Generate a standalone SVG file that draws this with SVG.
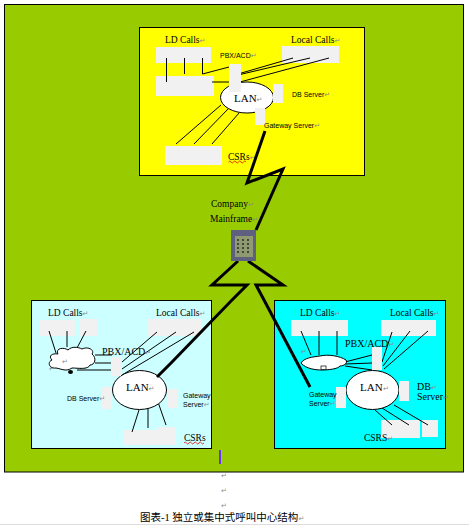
<svg xmlns="http://www.w3.org/2000/svg" width="469" height="525" viewBox="0 0 469 525">
<style>
text{font-family:"Liberation Serif","Noto Sans CJK SC",serif;font-size:9.5px;fill:#000}
.s{font-size:7px;font-family:"Liberation Sans","Noto Sans CJK SC",sans-serif}
.l{font-size:11px}
.m{font-size:10px}
.c{font-size:10.5px}
.r{fill:#8a8a8a;font-family:"DejaVu Sans",sans-serif;font-size:7px}
.w{fill:#f1f1f1}
.e{fill:#fff;stroke:#000;stroke-width:1}
.t{fill:none;stroke:#000;stroke-width:1}
.b{fill:none;stroke:#000;stroke-width:3;stroke-linejoin:miter}
</style>
<rect x="0" y="0" width="469" height="525" fill="#fff"/>
<rect x="0" y="524" width="469" height="1" fill="#dddddd"/>
<rect id="background" x="4.500" y="4.500" width="459" height="467.500" fill="#99cc00" stroke="#000"/>

<g id="panel-top">
<rect x="139.500" y="27.500" width="225" height="148" fill="#ffff00" stroke="#000"/>
<g id="top-ld"><rect class="w" x="156" y="47" width="55" height="16"/><text x="165" y="43">LD Calls<tspan class="r">↵</tspan></text></g>
<g id="top-pbx-block"><rect class="w" x="156" y="76" width="58" height="20"/></g>
<g id="top-local"><rect class="w" x="282" y="46" width="57" height="17"/><text x="291" y="43">Local Calls<tspan class="r">↵</tspan></text></g>
<g id="top-lines">
<path class="t" d="M166.500 58V82M184.500 58V74M202.500 58V74L229 67M212 82H229M238 74L293 58M238 75L310 58M240 82L329 58"/>
<path class="t" d="M221 105L176 144M229 108L194 144M239 113L212 144"/>
</g>
<g id="top-lan"><ellipse class="e" cx="247" cy="97.500" rx="26.500" ry="15.500"/><text class="l" x="234" y="102">LAN<tspan class="r">↵</tspan></text></g>
<g id="top-pbx"><rect class="w" x="229" y="64" width="12" height="28"/><text class="s" x="220" y="58">PBX/ACD<tspan class="r">↵</tspan></text></g>
<g id="top-db"><rect class="w" x="273" y="84" width="10" height="19"/><text class="s" x="292" y="97">DB Server<tspan class="r">↵</tspan></text></g>
<g id="top-gateway"><rect class="w" x="255" y="108" width="10" height="17"/><text class="s" x="264" y="128">Gateway Server<tspan class="r">↵</tspan></text></g>
<g id="top-csrs"><rect class="w" x="165" y="146" width="57" height="19"/><text x="228" y="160">CSRs<tspan class="r">↵</tspan></text><path d="M228.500 162q1.250-2 2.500 0t2.500 0t2.500 0t2.500 0t2.500 0t2.500 0t2.500 0" fill="none" stroke="#e00000" stroke-width=".8"/></g>
</g>

<g id="panel-left">
<rect x="31.500" y="300.500" width="180" height="148" fill="#ccffff" stroke="#000"/>
<g id="left-ld"><rect class="w" x="39" y="320" width="36" height="16"/><rect class="w" x="79" y="319" width="18" height="17"/><text x="48" y="316">LD Calls<tspan class="r">↵</tspan></text></g>
<g id="left-local"><rect class="w" x="147" y="319" width="55" height="17"/><text x="156" y="316">Local Calls<tspan class="r">↵</tspan></text></g>
<g id="left-csrs"><rect class="w" x="124" y="430" width="52" height="15"/><rect class="w" x="158" y="427" width="18" height="18"/><text x="184" y="441">CSRs</text><path d="M184 443q1.250-2 2.500 0t2.500 0t2.500 0t2.500 0t2.500 0t2.500 0t2.500 0t2.500 0" fill="none" stroke="#e00000" stroke-width=".8"/></g>
<g id="left-lines">
<path class="t" d="M49 331L56 353M67 331V347M86 331L77 348M95 355H112M95 363H112M77 370H112M122 362L157 332M122 369L176 332M122 375L194 332"/>
<path class="t" d="M139 410L132 432M148 408V428M158 402L166 425"/>
</g>
<g id="left-cloud"><path d="M58 354C55 348 64 347 68 350C72 346 78 347 82 349C88 346 95 350 92 354C97 358 95 365 90 365C88 370 78 368 72 368C66 372 62 369 56 368C49 369 47 362 52 360C48 356 52 353 58 354Z" fill="#fff" stroke="#000"/><ellipse cx="70.500" cy="372" rx="2.500" ry="2" fill="#000"/><text class="r" x="62" y="364">↵</text><text class="r" x="49" y="371">↵</text></g>
<g id="left-lan"><ellipse class="e" cx="139.500" cy="390" rx="27" ry="19.500"/><text class="l" x="126" y="391">LAN<tspan class="r">↵</tspan></text></g>
<g id="left-pbx"><rect class="w" x="111" y="357" width="10" height="19"/><text class="m" x="102" y="355">PBX/ACD<tspan class="r">↵</tspan></text></g>
<g id="left-db"><rect class="w" x="102" y="387" width="10" height="22"/><text class="s" x="67" y="401">DB Server<tspan class="r">↵</tspan></text></g>
<g id="left-gateway"><rect class="w" x="167" y="389" width="10" height="19"/><text class="s" x="183" y="398">Gateway</text><text class="s" x="183" y="407">Server<tspan class="r">↵</tspan></text></g>
</g>

<g id="panel-right">
<rect x="274.500" y="300.500" width="171" height="148" fill="#00ffff" stroke="#000"/>
<g id="right-ld"><rect class="w" x="291" y="320" width="57" height="16"/><text x="300" y="316">LD Calls<tspan class="r">↵</tspan></text></g>
<g id="right-local"><rect class="w" x="381" y="320" width="55" height="16"/><text x="390" y="316">Local Calls<tspan class="r">↵</tspan></text></g>
<g id="right-csrs"><rect class="w" x="381" y="420" width="39" height="18"/><rect class="w" x="422" y="420" width="16" height="17"/><text x="364" y="441">CSRS<tspan class="r">↵</tspan></text></g>
<g id="right-lines">
<path class="t" d="M301 331L311 355M319 331V355M337 331V355M345 362L372 355M345 364L372 363M345 366L372 370M382 362L392 332M383 366L410 331M384 369L428 331"/>
<path class="t" d="M375 410L392 425M382 408L409 425M394 405L428 425"/>
</g>
<g id="right-cloud"><path d="M301 363C304 358 312 357 320 356C328 354 340 356 346 360C348 363 344 366 340 366C338 369 328 370 322 370C316 370 306 369 301 363Z" fill="#fff" stroke="#000"/><rect x="321" y="366" width="5" height="3.500" fill="#fff" stroke="#000" stroke-width=".7"/><text class="r" x="301" y="354">↵</text></g>
<g id="right-lan"><ellipse class="e" cx="372.500" cy="390" rx="26.500" ry="19.500"/><text class="l" x="360" y="391">LAN</text><text class="r" x="383" y="391">↵</text></g>
<g id="right-pbx"><rect class="w" x="372" y="347" width="10" height="23"/><text class="m" x="345" y="347">PBX/ACD<tspan class="r">↵</tspan></text></g>
<g id="right-db"><rect class="w" x="399" y="381" width="10" height="20"/><text class="m" x="417" y="390">DB<tspan class="r">↵</tspan></text><text class="m" x="417" y="400">Server<tspan class="r">↵</tspan></text></g>
<g id="right-gateway"><rect class="w" x="336" y="387" width="10" height="21"/><text class="s" x="309" y="397">Gateway</text><text class="s" x="309" y="406">Server<tspan class="r">↵</tspan></text></g>
</g>

<g id="connectors">
<path class="b" d="M265 131L247 183L283 169L256 230"/>
<path class="b" d="M238 261L212 285H247L232 300L172 362L157 377"/>
<path class="b" d="M248 261L283 285H256L264 300L310 387"/>
</g>

<g id="mainframe">
<rect x="231" y="230" width="25" height="31" fill="#5f5f80"/>
<rect x="235" y="236" width="18" height="21" fill="#8f9a70"/>
<path d="M237 240h14M237 244h14M237 248h14M237 252h14" stroke="#2a2a2a" stroke-width="1.500" stroke-dasharray="2 3"/>
<text x="211" y="207">Company<tspan class="r">↵</tspan></text>
<text x="210" y="222">Mainframe<tspan class="r">↵</tspan></text>
</g>

<rect id="cursor" x="219" y="450" width="2" height="14" fill="#6633ff"/>
<g id="caption">
<text class="r" x="221" y="478">↵</text>
<text class="r" x="221" y="493">↵</text>
<text class="r" x="221" y="508">↵</text>
<text class="c" x="140" y="521">图表-1 独立或集中式呼叫中心结构<tspan class="r">↵</tspan></text>
</g>
</svg>
